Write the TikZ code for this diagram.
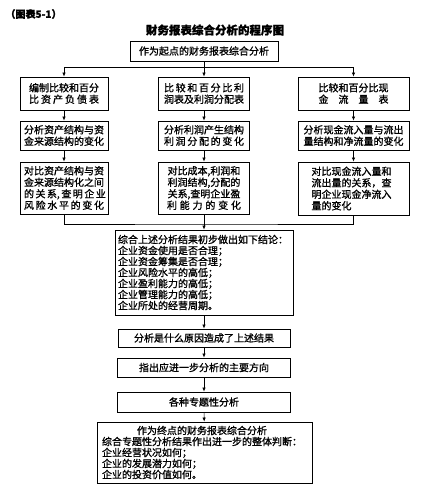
\documentclass[tikz,border=0pt]{standalone}
\usepackage{fontspec}
\setmainfont{Noto Sans CJK SC}[FakeBold=1.2]
\usetikzlibrary{arrows.meta}
\newcommand{\sline}[2]{\makebox[#1em][s]{#2}}

\begin{document}
\begin{tikzpicture}[x=1pt,y=-1pt,
  box/.style={draw, line width=0.8pt, inner sep=1pt, align=center,
    font=\fontsize{10pt}{11.5pt}\selectfont},
  arr/.style={-{Latex[length=4pt,width=3.5pt]}, line width=0.7pt}]
  \useasboundingbox (0,0) rectangle (426,490);
  % heading
  \node[anchor=west, font=\bfseries\fontsize{10pt}{12pt}\selectfont] (tag) at (2,14) {（图表5-1）};
  \node[font=\bfseries\fontsize{11.5pt}{13pt}\selectfont] (title) at (215,30) {财务报表综合分析的程序图};
  \node[box, minimum width=148pt, minimum height=20pt] (start) at (204,51) {作为起点的财务报表综合分析};
  % left column
  \node[box, minimum width=88pt, minimum height=33pt] (l1) at (64,93.5)
    {编制比较和百分\\\sline{7}{比 资 产 负 债 表}};
  \node[box, minimum width=88pt, minimum height=29pt] (l2) at (64,135.5)
    {分析资产结构与资\\金来源结构的变化};
  \node[box, minimum width=88pt, minimum height=52pt] (l3) at (64,188)
    {对比资产结构与资\\金来源结构化之间\\\sline{8}{的 关 系, 查 明 企 业}\\\sline{8}{风 险 水 平 的 变 化}};
  % middle column
  \node[box, minimum width=91pt, minimum height=33pt] (m1) at (204,93.5)
    {\sline{8}{比 较 和 百 分 比 利}\\润表及利润分配表};
  \node[box, minimum width=91pt, minimum height=29pt] (m2) at (204,135.5)
    {分析利润产生结构\\\sline{8}{利 润 分 配 的 变 化}};
  \node[box, minimum width=91pt, minimum height=52pt] (m3) at (204,188)
    {对比成本,利润和\\利润结构,分配的\\关系,查明企业盈\\\sline{7.4}{利 能 力 的 变 化}};
  % right column
  \node[box, minimum width=111pt, minimum height=33pt] (r1) at (353.5,93.5)
    {比较和百分比现\\\sline{7}{金 流 量 表}};
  \node[box, minimum width=111pt, minimum height=29pt] (r2) at (353.5,135.5)
    {分析现金流入量与流出\\量结构和净流量的变化};
  \node[box, minimum width=111pt, minimum height=53pt, text width=84pt, align=left] (r3) at (353.5,188.5)
    {对比现金流入量和\\流出量的关系，查\\明企业现金净流入\\量的变化};
  % lower chain
  \node[box, minimum width=178pt, minimum height=85pt, text width=172pt, align=left,
    font=\fontsize{10pt}{11pt}\selectfont] (sum) at (204,272.5)
    {综合上述分析结果初步做出如下结论：\\企业资金使用是否合理；\\企业资金筹集是否合理；\\企业风险水平的高低；\\企业盈利能力的高低；\\企业管理能力的高低；\\企业所处的经营周期。};
  \node[box, minimum width=172pt, minimum height=18pt] (cause) at (204,338) {分析是什么原因造成了上述结果};
  \node[box, minimum width=173pt, minimum height=19pt] (dir) at (204,367.5) {指出应进一步分析的主要方向};
  \node[box, minimum width=173pt, minimum height=20pt] (topic) at (204,402) {各种专题性分析};
  \node[box, minimum width=215pt, minimum height=61pt, text width=205pt, align=left,
    font=\fontsize{10pt}{11pt}\selectfont] (finish) at (204.5,452.5)
    {\makebox[200pt]{作为终点的财务报表综合分析}\\综合专题性分析结果作出进一步的整体判断：\\企业经营状况如何；\\企业的发展潜力如何；\\企业的投资价值如何。};
  % connectors
  \draw[arr] (start) -- (m1);
  \draw[arr] ([yshift=-6pt]start.south) -| (l1);
  \draw[arr] ([yshift=-6pt]start.south) -| (r1);
  \draw[arr] (l1) -- (l2);
  \draw[arr] (l2) -- (l3);
  \draw[arr] (m1) -- (m2);
  \draw[arr] (m2) -- (m3);
  \draw[arr] (r1) -- (r2);
  \draw[arr] (r2) -- (r3);
  \coordinate (join) at (204,224);
  \draw[line width=0.7pt] (l3.south) |- (join) -| (r3.south);
  \draw[arr] (m3) -- (sum);
  \draw[arr] (sum) -- (cause);
  \draw[arr] (cause) -- (dir);
  \draw[arr] (dir) -- (topic);
  \draw[arr] (topic) -- (finish);
\end{tikzpicture}
\end{document}
